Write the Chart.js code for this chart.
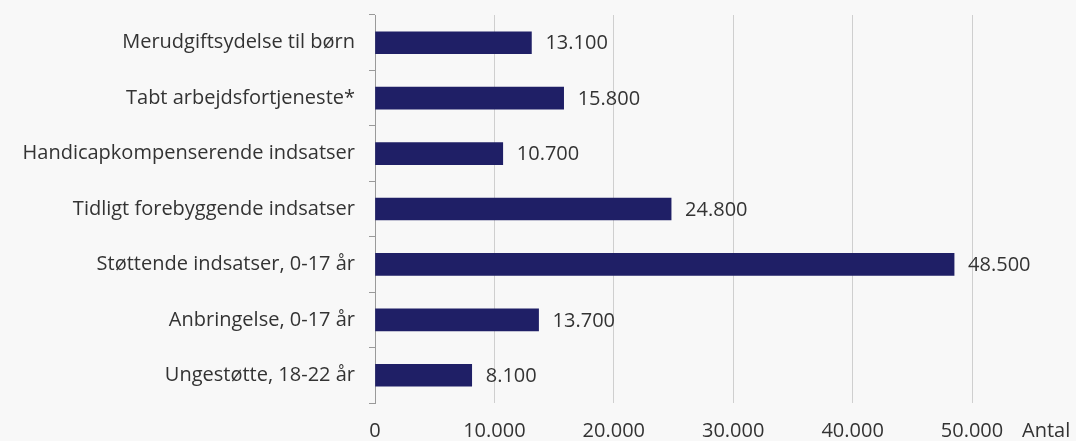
<!DOCTYPE html>
<html>
<head>
<meta charset="utf-8">
<script src="https://cdn.jsdelivr.net/npm/chart.js@4"></script>
<style>
  html, body { margin: 0; padding: 0; background: #f8f8f8; }
  #wrap { width: 1076px; height: 441px; position: relative; }
</style>
</head>
<body>
<div id="wrap"><canvas id="c" width="1076" height="441"></canvas></div>
<script>
const categories = [
  'Merudgiftsydelse til børn',
  'Tabt arbejdsfortjeneste*',
  'Handicapkompenserende indsatser',
  'Tidligt forebyggende indsatser',
  'Støttende indsatser, 0-17 år',
  'Anbringelse, 0-17 år',
  'Ungestøtte, 18-22 år'
];
const antal = [13100, 15800, 10700, 24800, 48500, 13700, 8100];
const xTicks = [0, 10000, 20000, 30000, 40000, 50000];
const axisTitle = 'Antal';

const FONT = '"Open Sans", "Noto Sans", sans-serif';
const SIZE = 20;
const TEXT = '#333333';
const fmt = v => v.toLocaleString('da-DK');

const background = {
  id: 'background',
  beforeDraw(chart) {
    const ctx = chart.ctx;
    ctx.save();
    ctx.fillStyle = '#f8f8f8';
    ctx.fillRect(0, 0, chart.width, chart.height);
    ctx.restore();
  }
};

const valueLabels = {
  id: 'valueLabels',
  afterDatasetsDraw(chart) {
    const ctx = chart.ctx;
    const meta = chart.getDatasetMeta(0);
    ctx.save();
    ctx.font = SIZE + 'px ' + FONT;
    ctx.fillStyle = TEXT;
    ctx.textBaseline = 'middle';
    ctx.textAlign = 'left';
    meta.data.forEach((bar, i) => {
      ctx.fillText(fmt(antal[i]), bar.x + 14, bar.y + 1);
    });
    // axis unit label, to the right of the last tick label
    const xs = chart.scales.x;
    ctx.fillText(axisTitle, xs.right + 50, 431);
    ctx.restore();
  }
};

new Chart(document.getElementById('c'), {
  type: 'bar',
  data: {
    labels: categories,
    datasets: [{
      data: antal,
      backgroundColor: '#1f1f66',
      borderWidth: 0,
      barThickness: 22
    }]
  },
  options: {
    indexAxis: 'y',
    responsive: false,
    animation: false,
    devicePixelRatio: 1,
    layout: { padding: { top: 15, right: 104, bottom: 0, left: 0 } },
    plugins: { legend: { display: false }, tooltip: { enabled: false } },
    scales: {
      x: {
        min: 0,
        max: 50000,
        afterBuildTicks(scale) { scale.ticks = xTicks.map(v => ({ value: v })); },
        afterFit(scale) {
          scale.height = 38;
          scale.paddingLeft = 0; scale.paddingRight = 0;
        },
        grid: { color: '#cfcfcf', lineWidth: 1, drawTicks: false },
        border: { display: false },
        ticks: {
          padding: 16,
          color: TEXT,
          font: { family: FONT, size: SIZE },
          callback: v => fmt(v)
        }
      },
      y: {
        afterFit(scale) {
          scale.width = 375;
          scale.paddingTop = 0; scale.paddingBottom = 0;
        },
        grid: { drawOnChartArea: false, drawTicks: true, tickLength: 6, color: '#9a9a9a', offset: true },
        border: { display: true, color: '#9a9a9a', width: 1 },
        ticks: {
          padding: 14,
          color: TEXT,
          font: { family: FONT, size: SIZE }
        }
      }
    }
  },
  plugins: [background, valueLabels]
});
</script>
</body>
</html>
